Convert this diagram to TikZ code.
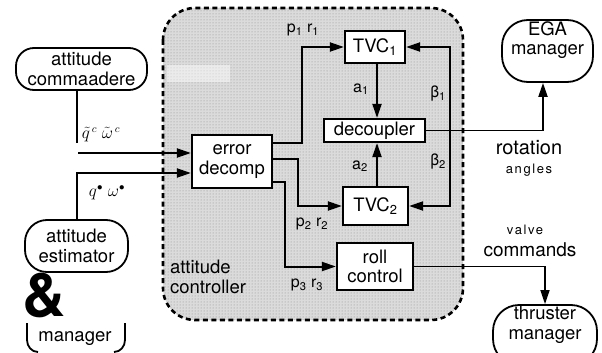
\documentclass[tikz,border=0pt]{standalone}
\usepackage{fontspec}
\setmainfont{TeX Gyre Heros}
\usetikzlibrary{arrows.meta,patterns}
\begin{document}
\begin{tikzpicture}[x=1pt,y=-1pt,
  box/.style={draw, line width=2.2pt, fill=white, inner sep=0pt, align=center, font=\fontsize{18.5}{19.5}\selectfont},
  pill/.style={draw, line width=1.8pt, rounded corners=18pt, fill=white, inner sep=0pt, align=center, font=\fontsize{18.5}{19.5}\selectfont},
  conn/.style={line width=2pt},
  arr/.style={line width=2pt, -{Triangle[length=14pt,width=9pt]}},
  lab/.style={font=\fontsize{16}{17}\selectfont, inner sep=0pt},
  txt/.style={font=\fontsize{18.5}{19.5}\selectfont, inner sep=0pt},
]
\clip (0,0) rectangle (602,353);
\fill[white] (0,0) rectangle (602,353);
% stippled controller region
\path[rounded corners=32pt, fill=gray!28] (163,8) rectangle (463,320);
\path[rounded corners=32pt, pattern=dots, pattern color=gray!90] (163,8) rectangle (463,320);
\fill[white, opacity=0.45] (167,65) rectangle (230,82);
\draw[rounded corners=32pt, line width=2.6pt, dash pattern=on 5pt off 3.5pt] (163,8) rectangle (463,320);

% nodes
\node[pill, minimum width=131pt, minimum height=42pt] (cmd) at (81.5,69) {attitude\\commaadere};
\node[pill, minimum width=103pt, minimum height=52pt, rounded corners=22pt] (est) at (76.5,246) {attitude\\estimator};
\node[box, minimum width=80pt, minimum height=53pt] (err) at (232,161.5) {error\\decomp};
\node[box, minimum width=60pt, minimum height=32pt] (tvc1) at (375,47) {TVC\textsubscript{1}};
\node[box, minimum width=101pt, minimum height=23pt] (dec) at (374.5,130.5) {decoupler};
\node[box, minimum width=65pt, minimum height=38pt] (tvc2) at (375.5,206) {TVC\textsubscript{2}};
\node[box, minimum width=76pt, minimum height=47pt] (roll) at (375,266.5) {roll\\control};
\node[pill, minimum width=91pt, minimum height=62pt, rounded corners=26pt] (ega) at (547.5,51) {};
\node[txt, align=center] (egat) at (547.5,40) {EGA\\manager};
\node[pill, minimum width=104pt, minimum height=60pt, rounded corners=26pt] (thr) at (545,335) {};
\node[txt, align=center] (thrt) at (545,325) {thruster\\manager};

% connectors
\coordinate (c1) at (77,143);
\coordinate (c2) at (78,153);
\coordinate (c3) at (77,173);
\draw[conn] (c1 |- cmd.south) -- (c1);
\draw[arr] (c2) -- (c2 -| err.west);
\draw[arr] (c3 |- est.north) -- (c3) -- (c3 -| err.west);

\coordinate (k1) at (302,143);
\coordinate (k2) at (298,159);
\coordinate (k3) at (285,182);
\draw[arr] (err.east |- k1) -- (k1) |- (tvc1.west);
\draw[arr] (err.east |- k2) -- (k2) |- (tvc2.west);
\draw[arr] (err.east |- k3) -- (k3) |- (roll.west);

\coordinate (ax) at (377,0);
\draw[arr] (tvc1.south -| ax) -- (dec.north -| ax);
\draw[arr] (tvc2.north -| ax) -- (dec.south -| ax);

\coordinate (bx) at (450,0);
\draw[line width=2pt, {Triangle[length=14pt,width=9pt]}-{Triangle[length=14pt,width=9pt]}]
  (tvc1.east) -- (tvc1.east -| bx) -- (tvc2.east -| bx) -- (tvc2.east);

\coordinate (ex) at (543,129);
\draw[line width=1.3pt] (dec.east) -- (dec.east -| ex);
\draw[arr] (dec.east -| ex) -- (ex |- ega.south);

\draw[line width=1.6pt, -{Triangle[length=14pt,width=9pt]}] (roll.east) -| (thr.north);

% labels
\node[lab] (l1) at (303,30) {p\textsubscript{1} r\textsubscript{1}};
\node[lab] (la1) at (361,89) {a\textsubscript{1}};
\node[lab] (lb1) at (438,94) {β\textsubscript{1}};
\node[lab] (la2) at (360,166) {a\textsubscript{2}};
\node[lab] (lb2) at (438,162) {β\textsubscript{2}};
\node[lab] (l2) at (312,224) {p\textsubscript{2} r\textsubscript{2}};
\node[lab] (l3) at (307,285) {p\textsubscript{3} r\textsubscript{3}};
\node[lab] (lq) at (101,135) {$\tilde{q}^{\,c}\;\tilde{\omega}^{\,c}$};
\node[lab] (le) at (107,193) {$q^{\bullet}\;\omega^{\bullet}$};

\node[txt, align=left] (ac) at (208,277) {attitude\\controller};
\node[font=\fontsize{20}{21}\selectfont, inner sep=0pt] (rot) at (529,148) {rotation};
\node[font=\fontsize{13}{14}\selectfont\addfontfeature{LetterSpace=12}, inner sep=0pt] (ang) at (529,170) {angles};
\node[font=\fontsize{13}{14}\selectfont\addfontfeature{LetterSpace=12}, inner sep=0pt] (valve) at (525,230) {valve};
\node[font=\fontsize{19}{20}\selectfont, inner sep=0pt] (cmds) at (530,250) {commands};

\node[font=\fontsize{60}{60}\selectfont\bfseries, inner sep=0pt] (amp) at (44,295) {\&};
\node[txt] (mgr) at (75,339) {manager};
\draw[line width=1.8pt] (27,323) -- (27,340) to[out=-90,in=180] (38,352);
\draw[line width=1.8pt] (125,323) -- (125,340) to[out=-90,in=0] (114,352);
\end{tikzpicture}
\end{document}
